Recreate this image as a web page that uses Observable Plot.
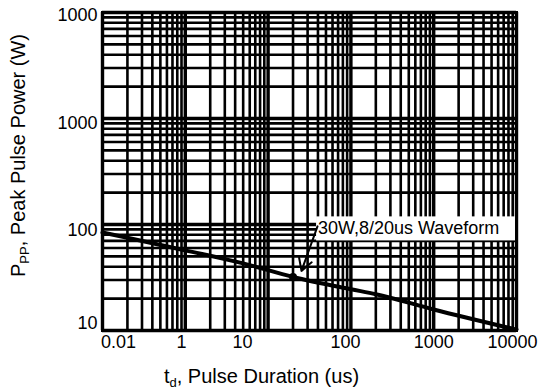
<!DOCTYPE html>
<html><head><meta charset="utf-8">
<script src="https://cdn.jsdelivr.net/npm/d3@7"></script>
<script src="https://cdn.jsdelivr.net/npm/@observablehq/plot@0.6"></script>
<style>body{margin:0;background:#fff;} svg{display:block}</style>
</head><body><div id="chart"></div>
<script>
// Curve: pulse duration (us) vs peak pulse power (W)
const tdValues = [0.1, 0.2, 1, 5, 20, 100, 200, 1000, 10000];
const ppValues = [84, 75, 57, 43, 32, 24.5, 22, 15.8, 10.2];

// Marked waveform point
const markTd = [20];
const markPp = [32];
const markLabel = ["30W,8/20us Waveform"];

// Axis tick labels (as printed) and where they sit
const xTickPos = [0.156, 0.9, 4.9, 86, 1000, 8950];
const xTickLabels = ["0.01", "1", "10", "100", "1000", "10000"];
const yTickPos = [11.6, 87.7, 897, 9370];
const yTickLabels = ["10", "100", "1000", "1000"];

// Grid decades
const xDecades = [0.1, 1, 10, 100, 1000, 10000];
const yDecades = [10, 100, 1000, 10000];
const multipliers = [2, 3, 4, 5, 6, 7, 8, 9];

const xMinor = xDecades.slice(0, -1).flatMap(d => multipliers.map(m => d * m));
const yMinor = yDecades.slice(0, -1).flatMap(d => multipliers.map(m => d * m));

const curve = tdValues.map((t, i) => ({t, p: ppValues[i]}));
const marks = markTd.map((t, i) => ({t, p: markPp[i], label: markLabel[i]}));
const xTicks = xTickPos.map((v, i) => ({v, label: xTickLabels[i]}));
const yTicks = yTickPos.map((v, i) => ({v, label: yTickLabels[i]}));

// Label box / arrow geometry in data units
const labelBox = [{x1: 38.5, x2: 10000, y1: 70, y2: 118}];
const labelText = [{x: 40, y: 91.4, text: markLabel[0]}];
const arrowData = [{x1: 39.5, y1: 96, x2: 25.3, y2: 36.5}];

const FONT = "'Liberation Sans', Arial, Helvetica, sans-serif";

const chart = Plot.plot({
  width: 541,
  height: 391,
  marginLeft: 102,
  marginRight: 25,
  marginTop: 12,
  marginBottom: 61,
  style: {fontFamily: FONT, fontSize: "18px", color: "#000", background: "#fff"},
  x: {type: "log", domain: [0.1, 10000], label: null, axis: null},
  y: {type: "log", domain: [10, 10000], label: null, axis: null},
  marks: [
    Plot.ruleX(xMinor, {stroke: "#000", strokeWidth: 2.6}),
    Plot.ruleX(xDecades, {stroke: "#000", strokeWidth: 3.4}),
    Plot.ruleY(yMinor, {stroke: "#000", strokeWidth: 2.6}),
    Plot.ruleY(yDecades, {stroke: "#000", strokeWidth: 3.4}),
    Plot.rect(labelBox, {x1: "x1", x2: "x2", y1: "y1", y2: "y2", fill: "#fff"}),
    Plot.frame({stroke: "#000", strokeWidth: 3}),
    Plot.text(labelText, {x: "x", y: "y", text: "text", textAnchor: "start", fontSize: 18, fill: "#000"}),
    Plot.line(curve, {x: "t", y: "p", stroke: "#000", strokeWidth: 4, curve: "monotone-x"}),
    Plot.dot(marks, {x: "t", y: "p", r: 4, fill: "#000"}),
    Plot.arrow(arrowData, {x1: "x1", y1: "y1", x2: "x2", y2: "y2", stroke: "#000", strokeWidth: 2, headLength: 10}),
    // tick labels
    Plot.text(xTicks, {x: "v", text: "label", frameAnchor: "bottom", lineAnchor: "top", textAnchor: "middle", dy: 5, fontSize: 18, fill: "#000"}),
    Plot.text(yTicks, {y: "v", text: "label", frameAnchor: "left", lineAnchor: "middle", textAnchor: "end", dx: -5, fontSize: 18, fill: "#000"}),
    // axis titles
    Plot.text(["XTITLE"], {frameAnchor: "bottom", textAnchor: "middle", lineAnchor: "middle", dx: -48, dy: 45.6, fontSize: 20, fill: "#000"}),
    Plot.text(["YTITLE"], {frameAnchor: "left", textAnchor: "middle", lineAnchor: "middle", rotate: -90, dx: -83.5, dy: -16, fontSize: 20, fill: "#000"})
  ]
});

document.getElementById("chart").appendChild(chart);

// Titles with subscripts
const titles = {
  XTITLE: [["t", false], ["d", true], [", Pulse Duration (us)", false]],
  YTITLE: [["P", false], ["PP", true], [", Peak Pulse Power (W)", false]]
};
d3.select(chart).selectAll("text").each(function() {
  const parts = titles[this.textContent];
  if (!parts) return;
  const sel = d3.select(this);
  sel.text(null);
  let shifted = false;
  for (const [s, sub] of parts) {
    const t = sel.append("tspan").text(s);
    if (sub) { t.attr("font-size", 13).attr("dy", 4); shifted = true; }
    else if (shifted) { t.attr("dy", -4); shifted = false; }
  }
});
</script>
</body></html>
